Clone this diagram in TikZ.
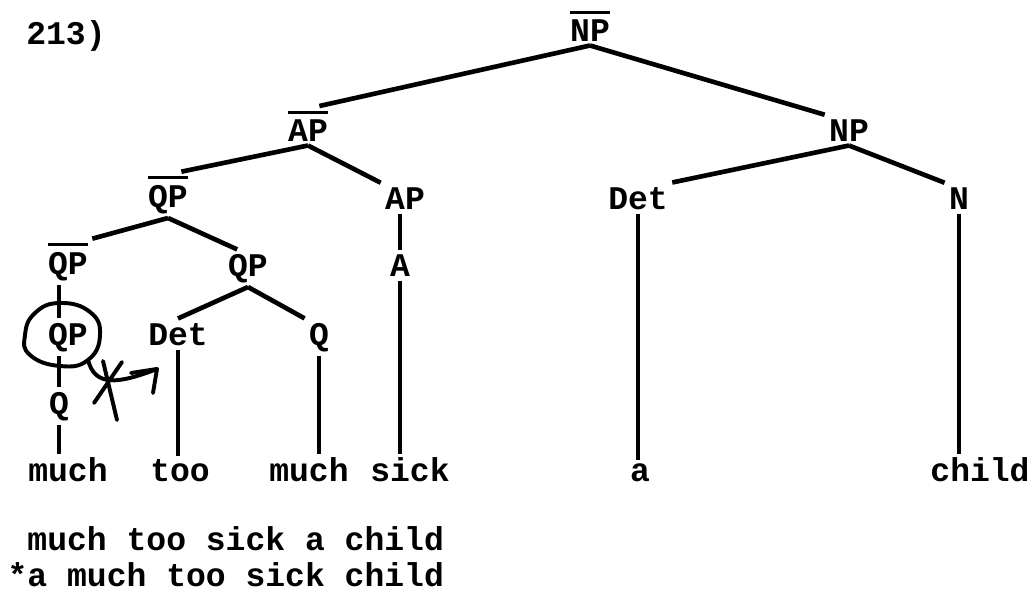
\documentclass[tikz,border=0pt]{standalone}
\usepackage{fontspec}
\setmainfont{Liberation Mono}
\usepackage{tikz}
\usetikzlibrary{positioning}

% category label with a bar over it
\newcommand{\barcat}[1]{\vbox{\hrule height 2.2pt\kern 4pt\hbox{#1}}}

\begin{document}
\begin{tikzpicture}[
    x=0.025cm, y=-0.025cm,
    font=\fontsize{23.5}{28}\selectfont\bfseries,
    % Define styles for the tree
    cat/.style={inner sep=3pt, anchor=base},
    word/.style={inner sep=2pt, anchor=base},
    branch/.style={line width=3.3pt},
    stem/.style={line width=2.6pt},
    penmark/.style={line width=2.8pt, line cap=round, line join=round}
]
\useasboundingbox (0,0) rectangle (1031,592);

% --- Nodes ---

\node[cat] (num) at (66,44) {213)};

% Top
\node[cat] (npbar) at (590,41) {\barcat{NP}};
\node[cat] (apbar) at (308,141) {\barcat{AP}};
\node[cat] (np) at (849,141) {NP};

% Middle
\node[cat] (qpbar1) at (168,207) {\barcat{QP}};
\node[cat] (ap) at (405,209) {AP};
\node[cat] (det2) at (638,209) {Det};
\node[cat] (n) at (959,209) {N};

\node[cat] (qpbar2) at (68,274) {\barcat{QP}};
\node[cat] (qp) at (248,276) {QP};
\node[cat] (a) at (400,276) {A};

\node[cat] (qpc) at (68,345) {QP};
\node[cat] (det1) at (178,345) {Det};
\node[cat] (q1) at (319,345) {Q};
\node[cat] (q2) at (59,414) {Q};

% Words
\node[word] (w1) at (68,481) {much};
\node[word] (w2) at (180,481) {too};
\node[word] (w3) at (309,481) {much};
\node[word] (w4) at (410,481) {sick};
\node[word] (w5) at (640,481) {a};
\node[word] (w6) at (980,481) {child};

% Examples
\node[word, anchor=base east] (ex1) at (447,550) {much too sick a child};
\node[word, anchor=base east] (ex2) at (447,586) {*a much too sick child};

% --- Branches ---

\draw[branch] (npbar.south) -- (apbar.60);
\draw[branch] (npbar.south) -- (np.north west);
\draw[branch] (apbar.south) -- (qpbar1.60);
\draw[branch] (apbar.south) -- (ap.north west);
\draw[branch] (qpbar1.south) -- (qpbar2.north east);
\draw[branch] (qpbar1.south) -- (qp.120);
\draw[branch] (qp.south) -- (det1.north);
\draw[branch] (qp.south) -- (q1.north west);
\draw[branch] (np.south) -- (det2.north east);
\draw[branch] (np.south) -- (n.north west);

% Stems
\draw[stem] (q2.north |- qpbar2.south) -- (q2.north |- qpc.north);
\draw[stem] (q2.north |- qpc.south) -- (q2.north);
\draw[stem] (q2.south) -- (q2.south |- w1.north);
\draw[stem] (det1.south) -- (det1.south |- w2.north);
\draw[stem] (q1.south) -- (q1.south |- w3.north);
\draw[stem] (a.north |- ap.south) -- (a.north);
\draw[stem] (a.south) -- (a.south |- w4.north);
\draw[stem] (det2.south) -- (det2.south |- w5.north);
\draw[stem] (n.south) -- (n.south |- w6.north);

% Hand-drawn ring and blocked arrow
\draw[penmark] plot[smooth cycle, tension=0.8] coordinates {(60,303) (90,312) (100,335) (88,360) (60,366) (30,355) (25,335) (35,313)};
\coordinate (tip) at (157,369);
\draw[penmark] (88,360) .. controls (95,387) and (118,384) .. (tip);
\draw[penmark] (131,373) -- (tip) -- (153,393);
\draw[penmark] (94,403) -- (122,362);
\draw[penmark] (103,361) -- (117,420);

\end{tikzpicture}
\end{document}
